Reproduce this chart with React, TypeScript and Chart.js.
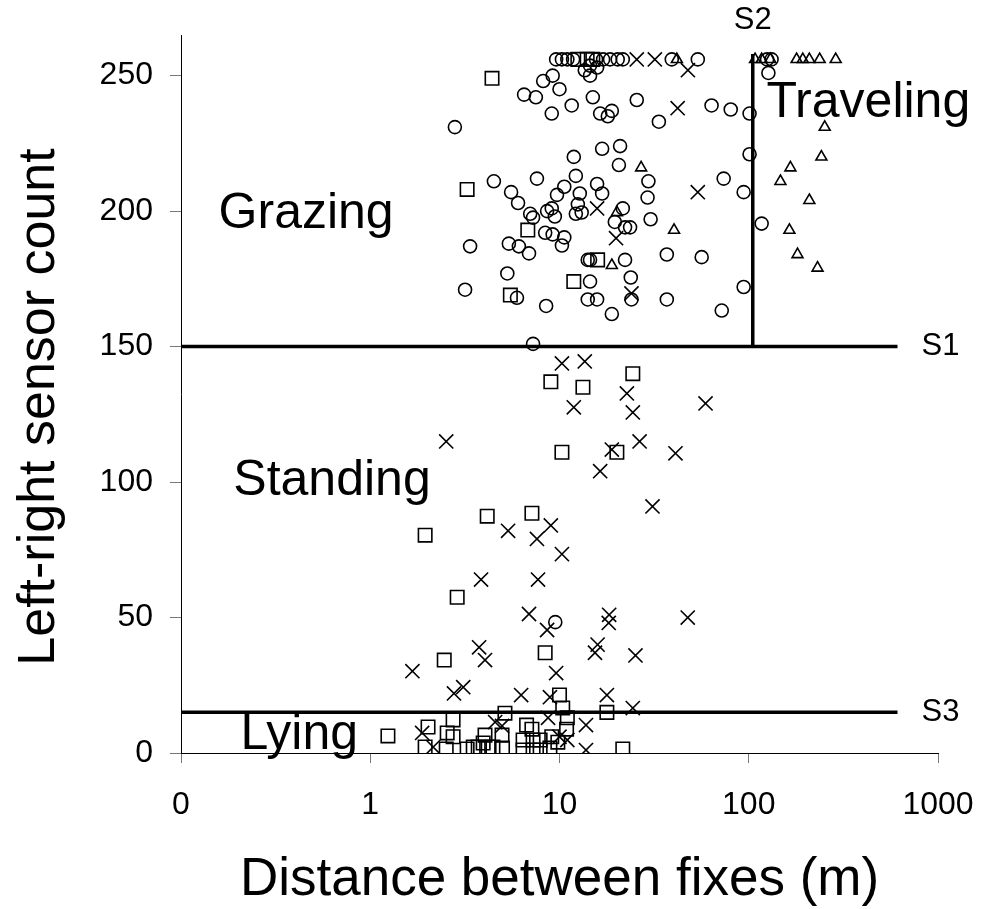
import React, { useEffect, useRef } from 'react';
import { Chart, registerables } from 'chart.js';

Chart.register(...registerables);

// ---- Data (distance m, sensor count) ----
const grazing: [number, number][] = [
  [9.6, 256], [10.3, 256], [11.0, 256], [11.8, 256], [15.6, 256], [17.0, 256], [18.5, 256], [20.3, 256], [21.6, 256],
  [39.2, 256], [53.8, 256], [125, 256], [132, 256],
  [14.5, 253.7], [13.6, 252], [14.5, 250], [15.8, 253],
  [9.2, 250], [8.2, 248], [6.5, 243], [7.5, 242], [10, 245], [9.1, 236], [11.6, 239], [15, 242], [16.4, 236],
  [18.9, 237], [18, 235], [2.8, 231],
  [25.6, 241], [33.5, 233], [63.6, 239], [80.3, 237.5], [101, 236], [127, 251],
  [11.9, 220], [16.8, 223], [20.9, 224], [20.6, 217], [12.2, 213], [7.6, 212], [4.5, 211], [15.8, 210],
  [101, 221], [29.5, 211], [73.7, 212], [94, 207],
  [12.8, 206.5], [12.5, 202.5], [12.2, 199], [13.1, 199.5],
  [16.8, 206.5], [29.2, 205], [21.6, 201], [19.6, 196], [22.2, 194], [23.6, 194], [30.3, 197], [117, 195.4],
  [36.9, 184], [56.4, 183], [14.1, 182], [14.5, 182], [22.2, 182], [14.5, 174], [23.8, 175.5],
  [14.1, 167.4], [15.8, 167.4], [24, 167.4], [18.9, 162], [36.9, 167.4], [72, 163.3], [94, 172],
  [5.55, 207], [6.04, 203], [7.0, 199], [7.25, 197.6], [8.6, 200], [9.1, 201], [9.45, 198], [9.7, 206], [10.6, 209],
  [8.4, 192], [9.2, 191.4], [10.6, 190.3], [10.3, 187.3], [3.37, 187], [5.4, 188], [6.1, 187], [6.9, 184.4],
  [5.3, 177], [3.17, 171], [5.96, 168], [8.5, 165], [7.25, 151],
  [9.5, 48.3],
];

const lying: [number, number][] = [
  [12.5, 256], [14.0, 256], [15.0, 256],
  [4.4, 249], [3.25, 208], [6.8, 193], [5.5, 169], [11.9, 174], [15.9, 182],
  [9.0, 137], [13.3, 135], [24.4, 140], [10.3, 111], [20.1, 111], [4.15, 87.4], [7.15, 88.5], [1.95, 80.4],
  [2.88, 57.5], [8.4, 37], [2.46, 34.3],
  [10, 21.4], [10.4, 16.6], [17.8, 15], [21.6, 1.5],
  [1.24, 6.3], [2.02, 9.6], [1.95, 2.2], [2.74, 12.2], [2.55, 7.4], [2.74, 6], [2.52, 1.5], [3.25, 1.5],
  [3.5, 2.2], [3.72, 2.2], [3.95, 3.7], [4.2, 2.2], [4.04, 6.6], [4.97, 6.6], [5.0, 1.8], [5.15, 14.7],
  [4.45, 2.2], [6.7, 10.3], [6.42, 4.8], [7.25, 4.8], [7.9, 4.8], [6.42, 1.1], [7.25, 1.1], [7.9, 1.1],
  [7.15, 8.8], [9.1, 6], [8.9, 1.8], [11, 13], [10.9, 8.8], [9.8, 4],
];

const standing: [number, number][] = [
  [25.6, 256], [31.9, 256], [47.7, 252], [42.1, 238], [53.8, 207], [15.8, 201], [19.9, 190], [24, 169.6],
  [10.3, 143.8], [13.6, 144.5], [11.9, 127.6], [2.52, 115], [22.7, 132.7], [24.4, 125.7], [59.1, 129],
  [26.5, 115], [18.9, 112], [41, 110.6], [16.4, 104], [31, 91], [5.35, 82], [9.0, 84], [7.6, 79], [10.3, 73.4],
  [3.85, 64], [7.7, 64], [6.9, 51.3], [8.6, 45.4], [18.3, 51], [18.2, 48], [47.6, 50], [15.9, 40], [15.4, 37],
  [25.2, 36], [3.76, 39], [1.67, 30.2], [4.04, 34.3], [9.6, 29.5], [2.77, 22], [3.1, 24.3], [6.27, 21.4],
  [8.9, 20.6], [17.8, 21.4], [24.4, 16.6], [13.8, 10.3], [13.8, 1.1], [1.88, 7.4], [2.15, 2.2], [4.57, 11.4],
  [4.97, 10], [8.7, 13], [10, 6], [11, 4.8],
];

const traveling: [number, number][] = [
  [41.7, 256], [108, 256], [117, 256], [130, 256], [179, 256], [193, 256], [209, 256], [237, 256], [288, 256],
  [252, 231], [242, 220], [166, 216], [147, 211], [27, 216], [209, 204], [164, 193], [181, 184], [231, 179],
  [40.3, 193], [20.1, 199.5], [18.9, 180],
];

// thresholds
const s1Line: [number, number][] = [[0.1, 150], [611, 150]];
const s3Line: [number, number][] = [[0.1, 15], [611, 15]];
const s2Line: [number, number][] = [[105, 150], [105, 258]];

const xTicks = [0.1, 1, 10, 100, 1000];
const xTickLabels = ['0', '1', '10', '100', '1000'];
const yTicks = [0, 50, 100, 150, 200, 250];

const regionNames = ['Grazing', 'Traveling', 'Standing', 'Lying'];
const regionAnchorX = [0.158, 124, 0.189, 0.206];
const regionAnchorY = [199, 239.7, 100.3, 6.6];

const xTitle = 'Distance between fixes (m)';
const yTitle = 'Left-right sensor count';

const FONT = '"Liberation Sans", Arial, Helvetica, sans-serif';

const toPts = (a: [number, number][]) => a.map(([x, y]) => ({ x, y }));

export default function App() {
  const ref = useRef<HTMLCanvasElement | null>(null);

  useEffect(() => {
    document.body.style.margin = '0';
    const canvas = ref.current;
    if (!canvas) return;

    const textPlugin = {
      id: 'texts',
      afterDraw(chart: any) {
        const { ctx, chartArea } = chart;
        const xs = chart.scales.x;
        const ys = chart.scales.y;
        ctx.save();
        ctx.fillStyle = '#000';
        ctx.textBaseline = 'middle';
        ctx.textAlign = 'left';
        ctx.font = `50px ${FONT}`;
        regionNames.forEach((t, i) => {
          ctx.fillText(t, xs.getPixelForValue(regionAnchorX[i]), ys.getPixelForValue(regionAnchorY[i]));
        });
        ctx.font = `31px ${FONT}`;
        const endX = xs.getPixelForValue(s1Line[1][0]);
        ctx.fillText('S1', endX + 24, ys.getPixelForValue(s1Line[0][1]));
        ctx.fillText('S3', endX + 24, ys.getPixelForValue(s3Line[0][1]));
        ctx.textAlign = 'center';
        ctx.fillText('S2', xs.getPixelForValue(s2Line[0][0]), chartArea.top - 15);
        ctx.font = `53px ${FONT}`;
        ctx.fillText(xTitle, (chartArea.left + chartArea.right) / 2, chartArea.bottom + 127);
        ctx.font = `52px ${FONT}`;
        ctx.translate(chartArea.left - 141, (chartArea.top + chartArea.bottom) / 2 + 13);
        ctx.rotate(-Math.PI / 2);
        ctx.fillText(yTitle, 0, 0);
        ctx.restore();
      },
    };

    const markerBase = {
      showLine: false,
      borderColor: '#000',
      backgroundColor: 'rgba(0,0,0,0)',
      pointBorderWidth: 1.6,
      pointHoverRadius: 0,
    };
    const lineBase = {
      showLine: true,
      borderColor: '#000',
      borderWidth: 3.5,
      pointRadius: 0,
      pointHoverRadius: 0,
      fill: false,
      tension: 0,
    };

    const chart = new Chart(canvas, {
      type: 'scatter',
      data: {
        datasets: [
          { ...lineBase, label: 'S1', data: toPts(s1Line) },
          { ...lineBase, label: 'S3', data: toPts(s3Line) },
          { ...lineBase, label: 'S2', data: toPts(s2Line) },
          { ...markerBase, label: 'Grazing', data: toPts(grazing), pointStyle: 'circle', pointRadius: 6.5 },
          { ...markerBase, label: 'Lying', data: toPts(lying), pointStyle: 'rect', pointRadius: 9.5 },
          { ...markerBase, label: 'Standing', data: toPts(standing), pointStyle: 'crossRot', pointRadius: 10 },
          { ...markerBase, label: 'Traveling', data: toPts(traveling), pointStyle: 'triangle', pointRadius: 6.3 },
        ],
      },
      options: {
        animation: false,
        responsive: false,
        devicePixelRatio: 1,
        layout: { padding: { left: 0, right: 47, top: 35, bottom: 0 } },
        plugins: { legend: { display: false }, tooltip: { enabled: false } },
        events: [],
        scales: {
          x: {
            type: 'logarithmic',
            min: 0.1,
            max: 1000,
            afterBuildTicks: (s: any) => { s.ticks = xTicks.map((v) => ({ value: v })); },
            afterFit: (s: any) => { s.height = 156; s.paddingLeft = 0; s.paddingRight = 0; },
            border: { display: true, color: '#000', width: 1 },
            grid: { drawOnChartArea: false, drawTicks: true, tickLength: 10, color: '#777', lineWidth: 1 },
            ticks: {
              color: '#000',
              padding: 23,
              maxRotation: 0,
              autoSkip: false,
              font: { family: FONT, size: 32 },
              callback: (v: any) => {
                const i = xTicks.indexOf(Number(v));
                return i >= 0 ? xTickLabels[i] : '';
              },
            },
          },
          y: {
            type: 'linear',
            min: 0,
            max: 265,
            afterBuildTicks: (s: any) => { s.ticks = yTicks.map((v) => ({ value: v })); },
            afterFit: (s: any) => { s.width = 181; s.paddingTop = 0; s.paddingBottom = 0; },
            border: { display: true, color: '#000', width: 1 },
            grid: { drawOnChartArea: false, drawTicks: true, tickLength: 11, color: '#777', lineWidth: 1 },
            ticks: {
              color: '#000',
              padding: 17,
              autoSkip: false,
              font: { family: FONT, size: 32 },
            },
          },
        },
      },
      plugins: [textPlugin],
    } as any);

    return () => chart.destroy();
  }, []);

  return <canvas ref={ref} width={985} height={909} style={{ display: 'block' }} />;
}
